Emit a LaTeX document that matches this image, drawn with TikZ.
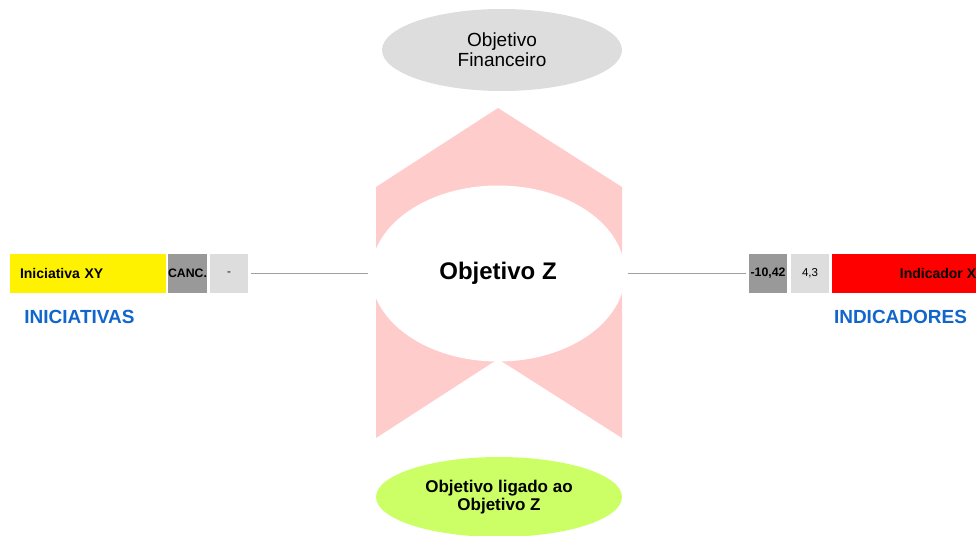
\documentclass[tikz,border=0pt]{standalone}
\usepackage{fontspec}
\setmainfont{Liberation Sans}
\usetikzlibrary{shapes.geometric}
\definecolor{pinkarrow}{HTML}{FFCCCC}
\definecolor{valdark}{HTML}{999999}
\definecolor{vallight}{HTML}{DDDDDD}
\definecolor{fingrey}{HTML}{DDDDDD}
\definecolor{linkgreen}{HTML}{CCFF66}
\definecolor{labelblue}{HTML}{1166CC}
\definecolor{conn}{HTML}{A0A0A0}
\begin{document}
\begin{tikzpicture}[x=1pt,y=-1pt,
  cell/.style={minimum height=39pt,inner sep=0pt,outer sep=0pt,draw=none},
  bigoval/.style={ellipse,inner sep=0pt,draw=none,align=center},
  linkline/.style={draw=conn,line width=1.2pt},
  caption/.style={text=labelblue,font=\fontsize{19}{21}\selectfont\bfseries,inner sep=0pt}]
\useasboundingbox (0,0) rectangle (976,535);
\clip (0,0) rectangle (976,535);

% up-pointing chevron behind the central objective
\fill[pinkarrow] (376,187) -- (498,108) -- (622,187) -- (622,438)
  -- (498,359) -- (376,438) -- cycle;

% central objective
\node[bigoval,fill=white,minimum width=254pt,minimum height=176pt,
  font=\fontsize{24}{26}\selectfont\bfseries] (objz) at (498,273.5) {Objetivo Z};

% financial objective above
\node[bigoval,fill=fingrey,minimum width=240pt,minimum height=82pt,
  font=\fontsize{19}{20}\selectfont] (fin) at (502,50) {Objetivo\\Financeiro};

% linked objective below
\node[bigoval,fill=linkgreen,minimum width=246pt,minimum height=80pt,
  font=\fontsize{17}{18}\selectfont\bfseries] (link) at (499,497) {Objetivo ligado ao\\Objetivo Z};

% initiatives on the left
\node[cell,fill=yellow,text width=136pt,inner xsep=10pt,align=left,
  font=\fontsize{14}{16}\selectfont\bfseries] (ini) at (88,273.5) {Iniciativa XY};
\node[cell,fill=valdark,minimum width=39pt,
  font=\fontsize{12.3}{14}\selectfont\bfseries] (canc) at (187.5,273.5) {CANC.};
\node[cell,fill=vallight,minimum width=38pt,
  font=\fontsize{11.5}{13}\selectfont] (inival) at (229,273.5) {-};
\node[caption] (inicap) at (79.5,317) {INICIATIVAS};

% indicators on the right
\node[cell,fill=valdark,minimum width=38pt,
  font=\fontsize{12.3}{14}\selectfont\bfseries] (indval) at (768,273.5) {-10,42};
\node[cell,fill=vallight,minimum width=38pt,
  font=\fontsize{11.5}{13}\selectfont] (indgoal) at (810,273.5) {4,3};
\node[cell,fill=red,minimum width=212pt,
  font=\fontsize{14}{16}\selectfont\bfseries] (ind) at (938,273.5) {Indicador X};
\node[caption] (indcap) at (900.5,317) {INDICADORES};

% connectors
\draw[linkline,shorten <=3pt,shorten >=3pt] (inival.east) -- (objz.west);
\draw[linkline,shorten <=3pt,shorten >=3pt] (objz.east) -- (indval.west);
\end{tikzpicture}
\end{document}
